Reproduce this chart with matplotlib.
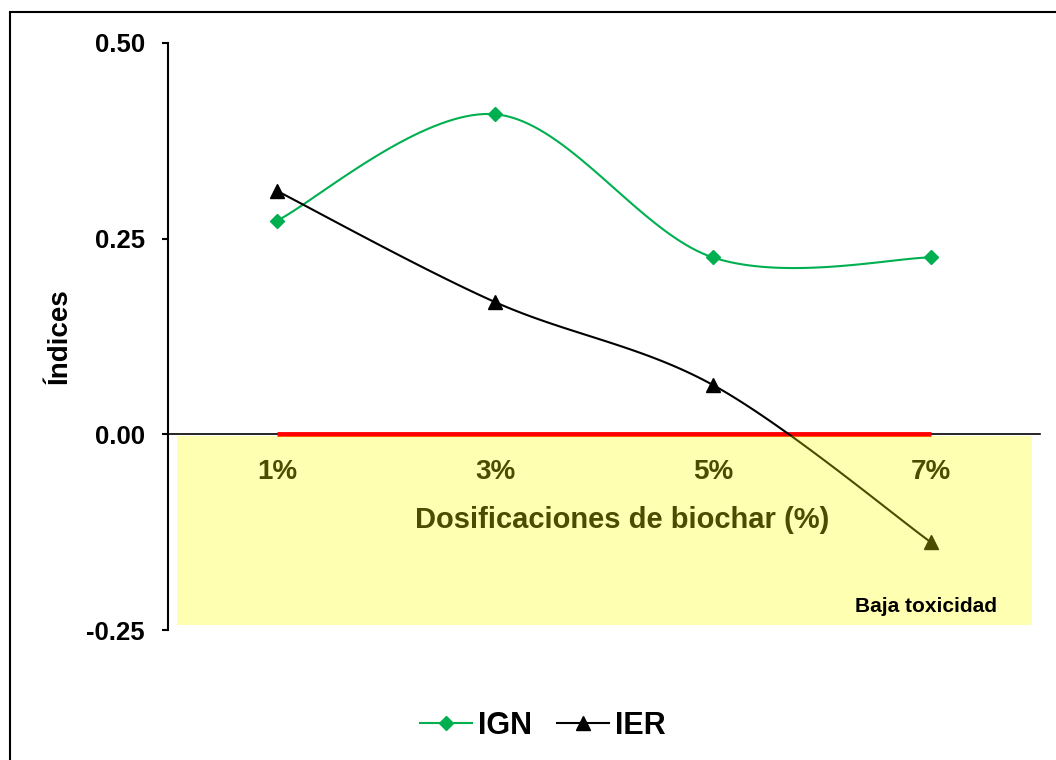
import numpy as np
import matplotlib.pyplot as plt
from matplotlib.patches import Rectangle

plt.rcParams['font.family'] = ['Liberation Sans', 'DejaVu Sans']
plt.rcParams['font.weight'] = 'bold'

categories = ['1%', '3%', '5%', '7%']
ign = [0.273, 0.409, 0.226, 0.226]
ier = [0.311, 0.169, 0.063, -0.138]
yticks = [-0.25, 0.00, 0.25, 0.50]
GREEN = '#00B050'


def smooth(y, n=40):
    # Catmull-Rom style smoothing like Excel's smoothed lines
    y = np.asarray(y, dtype=float)
    x = np.arange(len(y), dtype=float)
    px = np.concatenate([[x[0]], x, [x[-1]]])
    py = np.concatenate([[y[0]], y, [y[-1]]])
    xs, ys = [], []
    for i in range(1, len(px) - 2):
        t = np.linspace(0, 1, n)
        p0x, p1x, p2x, p3x = px[i - 1:i + 3]
        p0y, p1y, p2y, p3y = py[i - 1:i + 3]
        c1x, c1y = p1x + (p2x - p0x) / 6, p1y + (p2y - p0y) / 6
        c2x, c2y = p2x - (p3x - p1x) / 6, p2y - (p3y - p1y) / 6
        bx = (1 - t) ** 3 * p1x + 3 * (1 - t) ** 2 * t * c1x + 3 * (1 - t) * t ** 2 * c2x + t ** 3 * p2x
        by = (1 - t) ** 3 * p1y + 3 * (1 - t) ** 2 * t * c1y + 3 * (1 - t) * t ** 2 * c2y + t ** 3 * p2y
        xs.append(bx)
        ys.append(by)
    return np.concatenate(xs), np.concatenate(ys)


fig = plt.figure(figsize=(10.56, 7.6), dpi=100)
ax = fig.add_axes([168 / 1056, 1 - 630 / 760, 872 / 1056, 587 / 760])

x = np.arange(len(categories))
sx, sy = smooth(ign)
ax.plot(sx, sy, color=GREEN, lw=1.5, zorder=3)
ax.plot(x, ign, ls='none', marker='D', ms=7, color=GREEN, zorder=4)
sx, sy = smooth(ier)
ax.plot(sx, sy, color='black', lw=1.5, zorder=3)
ax.plot(x, ier, ls='none', marker='^', ms=10, color='black', zorder=4)

ax.plot([x[0], x[-1]], [0, 0], color='red', lw=3.5, zorder=2.7, solid_capstyle='butt')

ax.set_xlim(-0.5, len(categories) - 0.5)
ax.set_ylim(-0.25, 0.5)
ax.set_yticks(yticks)
ax.set_yticklabels([f'{v:.2f}' for v in yticks])
ax.set_xticks(x)
ax.set_xticklabels(categories)
ax.tick_params(axis='x', length=0, pad=18, labelsize=20)
ax.tick_params(axis='y', direction='out', length=4.5, width=1.5, pad=12, labelsize=18.5)

ax.spines['top'].set_visible(False)
ax.spines['right'].set_visible(False)
ax.spines['bottom'].set_position(('data', 0))
ax.spines['left'].set_linewidth(1.5)
ax.spines['bottom'].set_linewidth(1.2)

ax.set_ylabel('Índices', fontsize=20, fontweight='bold')
ax.yaxis.set_label_coords((73 - 168) / 872, 0.5)
ax.set_xlabel('Dosificaciones de biochar (%)', fontsize=21, fontweight='bold')
ax.xaxis.set_label_coords((622 - 168) / 872, (630 - 520) / 587)
ax.xaxis.label.set_va('center')

# translucent yellow "low toxicity" band over the lower area
fig.add_artist(Rectangle((177 / 1056, 1 - 625 / 760), (1032 - 177) / 1056, (625 - 436) / 760,
                         transform=fig.transFigure, facecolor='yellow', alpha=0.3,
                         edgecolor='none', zorder=10))
fig.text(926 / 1056, 1 - 607 / 760, 'Baja toxicidad', ha='center', va='center',
         fontsize=15, fontweight='bold', zorder=11)

# outer chart border
fig.add_artist(Rectangle((10 / 1056, -0.05), 1.1, 1 - 12 / 760 + 0.05,
                         transform=fig.transFigure, facecolor='none',
                         edgecolor='black', lw=1.5, zorder=0))

h1, = ax.plot([], [], color=GREEN, marker='D', ms=7, lw=1.5)
h2, = ax.plot([], [], color='black', marker='^', ms=10, lw=1.5)
fig.legend([h1, h2], ['IGN', 'IER'], loc='center', bbox_to_anchor=(543 / 1056, 1 - 726 / 760),
           ncol=2, frameon=False, prop={'size': 22, 'weight': 'bold'},
           handlelength=1.7, handletextpad=0.2, columnspacing=0.8)

fig.savefig('out.png', dpi=100)
